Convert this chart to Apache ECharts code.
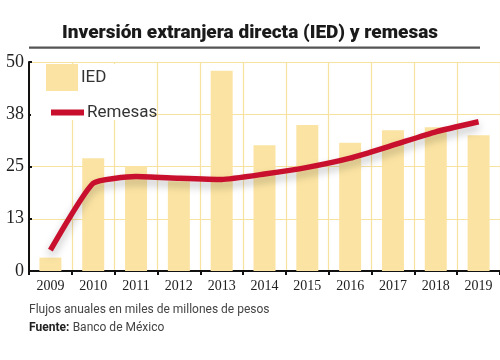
<!DOCTYPE html>
<html><head><meta charset="utf-8">
<script src="https://cdn.jsdelivr.net/npm/echarts@6/dist/echarts.min.js"></script>
<style>html,body{margin:0;padding:0;background:#fff}#c{width:500px;height:360px}</style>
</head><body><div id="c"></div>
<script>
const years = ['2009','2010','2011','2012','2013','2014','2015','2016','2017','2018','2019'];
const ied = [3.2, 27.0, 25.1, 21.5, 47.9, 30.1, 34.9, 30.7, 33.7, 34.4, 32.5];
const remesas = [5.0, 21.0, 22.6, 22.2, 21.9, 23.2, 24.8, 27.0, 30.1, 33.3, 35.7];

const chart = echarts.init(document.getElementById('c'), null, {renderer:'canvas'});
const gridCol = '#f7e2a0';
chart.setOption({
  animation:false,
  backgroundColor:'#fff',
  title:{text:'Inversión extranjera directa (IED) y remesas', left:'center', top:19,
    textStyle:{fontFamily:'Roboto', fontWeight:900, fontSize:19, color:'#1a1a1a'}},
  graphic:{elements:[
    {type:'rect', shape:{x:29,y:46.5,width:451,height:2.2}, style:{fill:'#555'}, silent:true},
    {type:'text', left:29, top:304, style:{text:'Flujos anuales en miles de millones de pesos', font:'12px Roboto', fill:'#444'}},
    {type:'text', left:29, top:322, style:{rich:{b:{fontFamily:'Roboto',fontWeight:'bold',fontSize:12,fill:'#222'},n:{fontFamily:'Roboto',fontSize:12,fill:'#444'}}, text:'{b|Fuente:} {n|Banco de México}'}}
  ]},
  legend:[
    {data:[{name:'IED', icon:'rect'}], left:31, top:64, itemWidth:32, itemHeight:27, itemGap:4, z:20,
     padding:[0,45,29,15], backgroundColor:'#fff',
     textStyle:{fontFamily:'Roboto', fontSize:17, color:'#333', padding:[0,0,0,-2]}},
    {data:[{name:'Remesas', icon:'rect', itemStyle:{color:'#c8102e'}}], left:46, top:99, itemWidth:33, itemHeight:6, z:21,
     textStyle:{fontFamily:'Roboto', fontSize:17, color:'#333', padding:[0,0,0,-2]}}
  ],
  grid:{left:29, right:0, top:62, bottom:89},
  xAxis:{type:'category', data:years, boundaryGap:true,
    axisLine:{lineStyle:{color:'#111', width:2}},
    axisTick:{show:true, length:4, lineStyle:{color:'#111', width:2}},
    axisLabel:{fontFamily:'Liberation Sans Narrow', fontSize:14, color:'#222', margin:8},
    splitLine:{show:true, lineStyle:{color:gridCol, width:1.2}}},
  yAxis:{type:'value', min:0, max:50, interval:12.5,
    axisLine:{show:true, lineStyle:{color:'#111', width:2}},
    axisTick:{show:true, inside:true, length:3, lineStyle:{color:'#111', width:2}},
    axisLabel:{fontFamily:'Liberation Sans Narrow', fontSize:18, color:'#222', margin:5,
      formatter:v=>String(Math.round(v))},
    splitLine:{show:true, lineStyle:{color:gridCol, width:1.2}}},
  series:[
    {name:'IED', type:'bar', data:ied, barWidth:22, itemStyle:{color:'#fbe4a3'}, z:2},
    {name:'Remesas', type:'line', data:remesas, smooth:0.15, showSymbol:false, symbol:'none', z:3,
     itemStyle:{color:'#c8102e'},
     lineStyle:{color:'#c8102e', width:5.5, shadowColor:'rgba(0,0,0,0.25)', shadowBlur:8, shadowOffsetY:5}}
  ]
});
</script></body></html>
